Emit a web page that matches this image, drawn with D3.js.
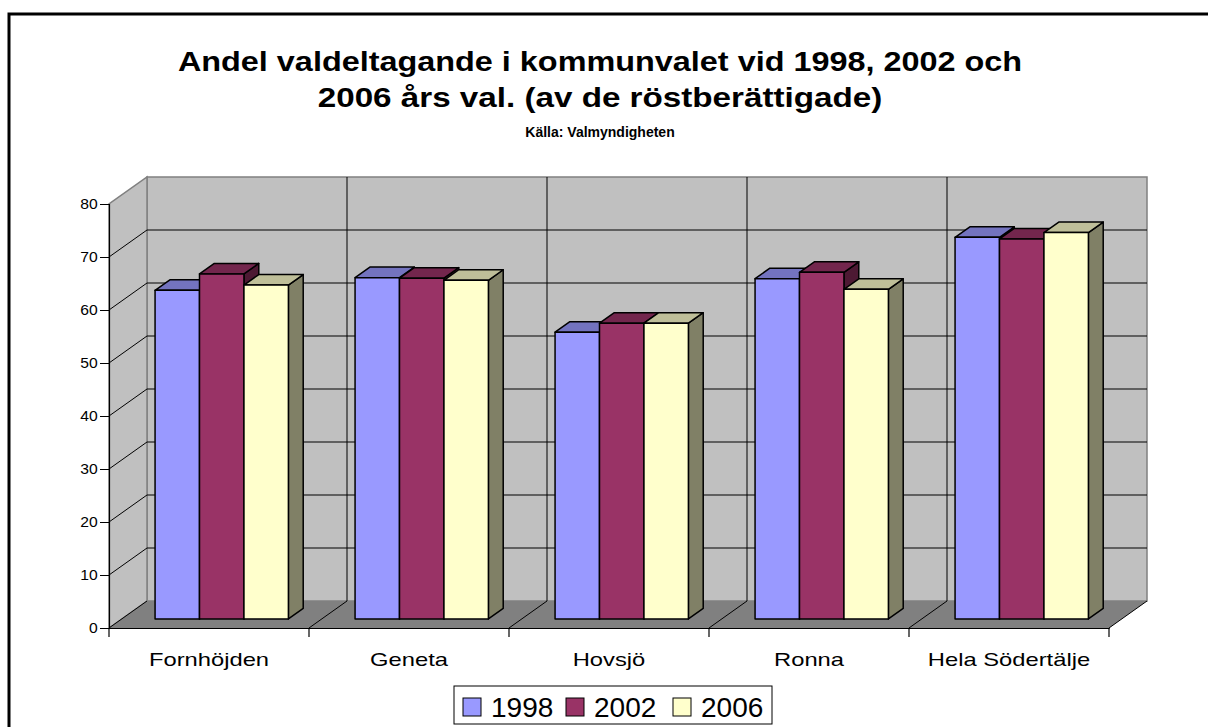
<!DOCTYPE html>
<meta charset="utf-8">

<!-- Load d3.js -->
<script src="https://d3js.org/d3.v7.min.js"></script>

<style type="text/css">
    body { margin: 0; background: white; }
    text { font-family: "Liberation Sans", Arial, sans-serif; }
</style>

<!-- Create a div where the graph will take place -->
<div id="my_dataviz"></div>

<script>
    // data
    var categories = ["Fornhöjden", "Geneta", "Hovsjö", "Ronna", "Hela Södertälje"];
    var years = ["1998", "2002", "2006"];
    var v1998 = [62.0, 64.4, 54.1, 64.2, 72.0];
    var v2002 = [65.1, 64.3, 55.8, 65.4, 71.7];
    var v2006 = [63.0, 63.9, 55.8, 62.2, 72.9];
    var yTicks = [0, 10, 20, 30, 40, 50, 60, 70, 80];

    var seriesValues = [v1998, v2002, v2006];
    var frontColor = ["#9999ff", "#993366", "#ffffcc"];
    var topColor = ["#7373bf", "#73264d", "#bfbf99"];
    var sideColor = ["#4d4d80", "#4d1933", "#808066"];

    var width = 1208, height = 727;
    // the original picture is a bit wider than it is tall, so text gets stretched
    var stretch = 1.2;

    var svg = d3.select("#my_dataviz")
        .append("svg")
        .attr("width", width)
        .attr("height", height);

    // outer frame
    svg.append("rect")
        .attr("x", 9).attr("y", 14)
        .attr("width", 1220).attr("height", 740)
        .attr("fill", "white")
        .attr("stroke", "black")
        .attr("stroke-width", 3);

    // scales (front plane)
    var y = d3.scaleLinear().domain([0, 80]).range([628, 204]);
    var xCat = d3.scaleBand().domain(categories).range([109, 1109]);
    var x = d3.scaleBand().domain(categories).range([109, 1109])
        .paddingInner(1 / 3).paddingOuter(1 / 6);
    var xSub = d3.scaleBand().domain(years).range([0, x.bandwidth()]);

    // depth of the 3d box
    var dx = 38, dy = -27;
    var barFront = 0.335, barBack = 0.725;

    var poly = function(pts) { return pts.map(function(p) { return p.join(","); }).join(" "); };

    // back wall
    svg.append("polygon")
        .attr("points", poly([[109 + dx, y(80) + dy], [1109 + dx, y(80) + dy], [1109 + dx, y(0) + dy], [109 + dx, y(0) + dy]]))
        .attr("fill", "#c0c0c0")
        .attr("stroke", "#808080")
        .attr("stroke-width", 1.5);

    // side wall
    svg.append("polygon")
        .attr("points", poly([[109, y(0)], [109 + dx, y(0) + dy], [109 + dx, y(80) + dy], [109, y(80)]]))
        .attr("fill", "#c0c0c0")
        .attr("stroke", "#808080")
        .attr("stroke-width", 1.5);

    // gridlines on the back and side walls
    var grid = yTicks.filter(function(d) { return d > 0 && d < 80; });
    svg.selectAll("backGrid")
        .data(grid)
        .enter()
        .append("line")
        .attr("x1", 109 + dx).attr("x2", 1109 + dx)
        .attr("y1", function(d) { return y(d) + dy; })
        .attr("y2", function(d) { return y(d) + dy; })
        .attr("stroke", "black").attr("stroke-width", 1);
    svg.selectAll("sideGrid")
        .data(grid)
        .enter()
        .append("line")
        .attr("x1", 109).attr("x2", 109 + dx)
        .attr("y1", function(d) { return y(d); })
        .attr("y2", function(d) { return y(d) + dy; })
        .attr("stroke", "black").attr("stroke-width", 1);

    // vertical lines on the back wall between categories
    var bounds = categories.slice(1).map(function(c) { return xCat(c); });
    svg.selectAll("backVert")
        .data(bounds)
        .enter()
        .append("line")
        .attr("x1", function(d) { return d + dx; })
        .attr("x2", function(d) { return d + dx; })
        .attr("y1", y(80) + dy).attr("y2", y(0) + dy)
        .attr("stroke", "black").attr("stroke-width", 1);

    // floor
    svg.append("polygon")
        .attr("points", poly([[109, y(0)], [1109, y(0)], [1109 + dx, y(0) + dy], [109 + dx, y(0) + dy]]))
        .attr("fill", "#808080");
    svg.selectAll("floorLines")
        .data([109].concat(bounds).concat([1109]))
        .enter()
        .append("line")
        .attr("x1", function(d) { return d; })
        .attr("x2", function(d) { return d + dx; })
        .attr("y1", y(0)).attr("y2", y(0) + dy)
        .attr("stroke", "black").attr("stroke-width", 1);

    // bars, drawn left to right so each front covers the previous side
    var bars = [];
    categories.forEach(function(c, i) {
        years.forEach(function(yr, j) {
            bars.push({cat: c, year: yr, s: j, value: seriesValues[j][i]});
        });
    });
    var bw = xSub.bandwidth();
    var fdx = dx * barFront, fdy = dy * barFront;
    var bdx = dx * (barBack - barFront), bdy = dy * (barBack - barFront);

    var g = svg.selectAll("myBars")
        .data(bars)
        .enter()
        .append("g")
        .attr("stroke", "black")
        .attr("stroke-width", 1.5)
        .attr("stroke-linejoin", "round");
    // side
    g.append("polygon")
        .attr("points", function(d) {
            var x0 = x(d.cat) + xSub(d.year) + fdx + bw, yt = y(d.value) + fdy, yb = y(0) + fdy;
            return poly([[x0, yt], [x0 + bdx, yt + bdy], [x0 + bdx, yb + bdy], [x0, yb]]);
        })
        .attr("fill", function(d) { return sideColor[d.s]; });
    // top
    g.append("polygon")
        .attr("points", function(d) {
            var x0 = x(d.cat) + xSub(d.year) + fdx, yt = y(d.value) + fdy;
            return poly([[x0, yt], [x0 + bw, yt], [x0 + bw + bdx, yt + bdy], [x0 + bdx, yt + bdy]]);
        })
        .attr("fill", function(d) { return topColor[d.s]; });
    // front
    g.append("rect")
        .attr("x", function(d) { return x(d.cat) + xSub(d.year) + fdx; })
        .attr("y", function(d) { return y(d.value) + fdy; })
        .attr("width", bw)
        .attr("height", function(d) { return y(0) - y(d.value); })
        .attr("fill", function(d) { return frontColor[d.s]; });

    // Y axis on the front edge
    var yAxis = svg.append("g")
        .attr("transform", "translate(109,0)")
        .call(d3.axisLeft(y).tickValues(yTicks).tickSize(9).tickPadding(1));
    yAxis.select(".domain").attr("stroke", "black").attr("stroke-width", 1.2);
    yAxis.selectAll("text").style("font-size", "14px").attr("fill", "black")
        .attr("transform", "scale(1.12,1)")
        .style("font-family", "'Liberation Sans', Arial, sans-serif");

    // X axis on the floor front edge
    var xAxis = svg.append("g")
        .attr("transform", "translate(0," + y(0) + ")")
        .call(d3.axisBottom(xCat).tickSize(0).tickPadding(25));
    xAxis.select(".domain").attr("stroke", "black").attr("stroke-width", 1.2);
    xAxis.selectAll("text").style("font-size", "19px").attr("fill", "black")
        .attr("transform", "scale(1.25,1)")
        .style("font-family", "'Liberation Sans', Arial, sans-serif");
    xAxis.selectAll("catTicks")
        .data([109].concat(bounds).concat([1109]))
        .enter()
        .append("line")
        .attr("x1", function(d) { return d; }).attr("x2", function(d) { return d; })
        .attr("y1", 0).attr("y2", 9)
        .attr("stroke", "black").attr("stroke-width", 1.2);

    // titles
    svg.append("text")
        .attr("transform", "translate(600,71) scale(" + stretch + ",1)")
        .attr("text-anchor", "middle")
        .style("font-size", "27px").style("font-weight", "bold")
        .text("Andel valdeltagande i kommunvalet vid 1998, 2002 och");
    svg.append("text")
        .attr("transform", "translate(600,107) scale(" + (stretch + 0.03) + ",1)")
        .attr("text-anchor", "middle")
        .style("font-size", "27px").style("font-weight", "bold")
        .text("2006 års val. (av de röstberättigade)");
    svg.append("text")
        .attr("x", 600).attr("y", 137)
        .attr("text-anchor", "middle")
        .style("font-size", "14px").style("font-weight", "bold")
        .text("Källa: Valmyndigheten");

    // legend
    svg.append("rect")
        .attr("x", 454).attr("y", 686)
        .attr("width", 318).attr("height", 38)
        .attr("fill", "white").attr("stroke", "black").attr("stroke-width", 1);
    var legX = [463, 566, 673];
    var leg = svg.selectAll("myLegend")
        .data(years)
        .enter()
        .append("g")
        .attr("transform", function(d, i) { return "translate(" + legX[i] + ",698)"; });
    leg.append("rect")
        .attr("width", 18).attr("height", 18)
        .attr("fill", function(d, i) { return frontColor[i]; })
        .attr("stroke", "black").attr("stroke-width", 1);
    leg.append("text")
        .attr("x", 28).attr("y", 19)
        .style("font-size", "28px")
        .text(function(d) { return d; });
</script>
